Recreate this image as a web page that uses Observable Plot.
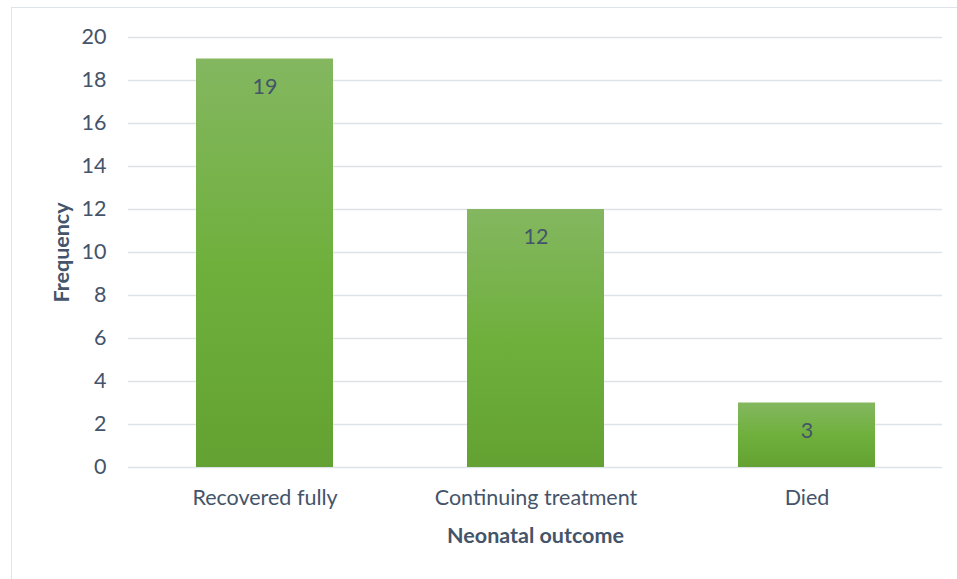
<!DOCTYPE html>
<html>
<head>
<meta charset="utf-8">
<script src="https://cdn.jsdelivr.net/npm/d3@7"></script>
<script src="https://cdn.jsdelivr.net/npm/@observablehq/plot@0.6"></script>
<style>
  html, body { margin: 0; padding: 0; background: #fff; }
  #wrap { position: relative; width: 957px; height: 579px; overflow: hidden; }
  #frame { position: absolute; left: 11px; top: 7px; width: 960px; height: 600px; border: 1.5px solid #dfe3ea; box-sizing: border-box; }
  #chart { position: absolute; left: 0; top: 0; }
</style>
</head>
<body>
<div id="wrap"><div id="frame"></div><div id="chart"></div></div>
<script>
const categories = ["Recovered fully", "Continuing treatment", "Died"];
const frequencies = [19, 12, 3];
const yTicks = [0, 2, 4, 6, 8, 10, 12, 14, 16, 18, 20];
const xTitle = "Neonatal outcome";
const yTitle = "Frequency";

const data = categories.map((c, i) => ({category: c, value: frequencies[i]}));
const textColor = "#44546a";
const font = "Lato, sans-serif";
const fs = 21.5;

const chart = Plot.plot({
  width: 957,
  height: 579,
  marginLeft: 128,
  marginRight: 15,
  marginTop: 37,
  marginBottom: 112,
  style: {fontFamily: font, fontSize: fs + "px", color: textColor, background: "transparent"},
  x: {domain: categories, paddingInner: 0.495, paddingOuter: 0.2475, label: null},
  y: {domain: [0, 20], ticks: yTicks, label: null},
  marks: [
    Plot.gridY(yTicks, {stroke: "#dde1e8", strokeOpacity: 1, strokeWidth: 1.5}),
    Plot.barY(data, {x: "category", y: "value", fill: "url(#barGrad)"}),
    Plot.text(data, {x: "category", y: "value", text: d => String(d.value), dy: 28, fill: textColor, fontSize: fs}),
    Plot.axisY(yTicks, {tickSize: 0, tickPadding: 22, fontSize: fs, fill: textColor}),
    Plot.axisX({tickSize: 0, tickPadding: 22, fontSize: fs, fill: textColor}),
    Plot.text([yTitle], {frameAnchor: "left", textAnchor: "middle", dx: -66, rotate: -90, fontWeight: "bold", fontSize: fs, fill: textColor}),
    Plot.text([xTitle], {frameAnchor: "bottom", dy: 75, fontWeight: "bold", fontSize: fs, fill: textColor})
  ]
});

const ns = "http://www.w3.org/2000/svg";
const defs = document.createElementNS(ns, "defs");
const grad = document.createElementNS(ns, "linearGradient");
grad.setAttribute("id", "barGrad");
grad.setAttribute("x1", "0"); grad.setAttribute("y1", "0");
grad.setAttribute("x2", "0"); grad.setAttribute("y2", "1");
[["0%", "#84b760"], ["50%", "#6fb03d"], ["100%", "#63a232"]].forEach(([o, c]) => {
  const s = document.createElementNS(ns, "stop");
  s.setAttribute("offset", o); s.setAttribute("stop-color", c);
  grad.appendChild(s);
});
defs.appendChild(grad);
chart.insertBefore(defs, chart.firstChild);
document.getElementById("chart").appendChild(chart);
</script>
</body>
</html>
